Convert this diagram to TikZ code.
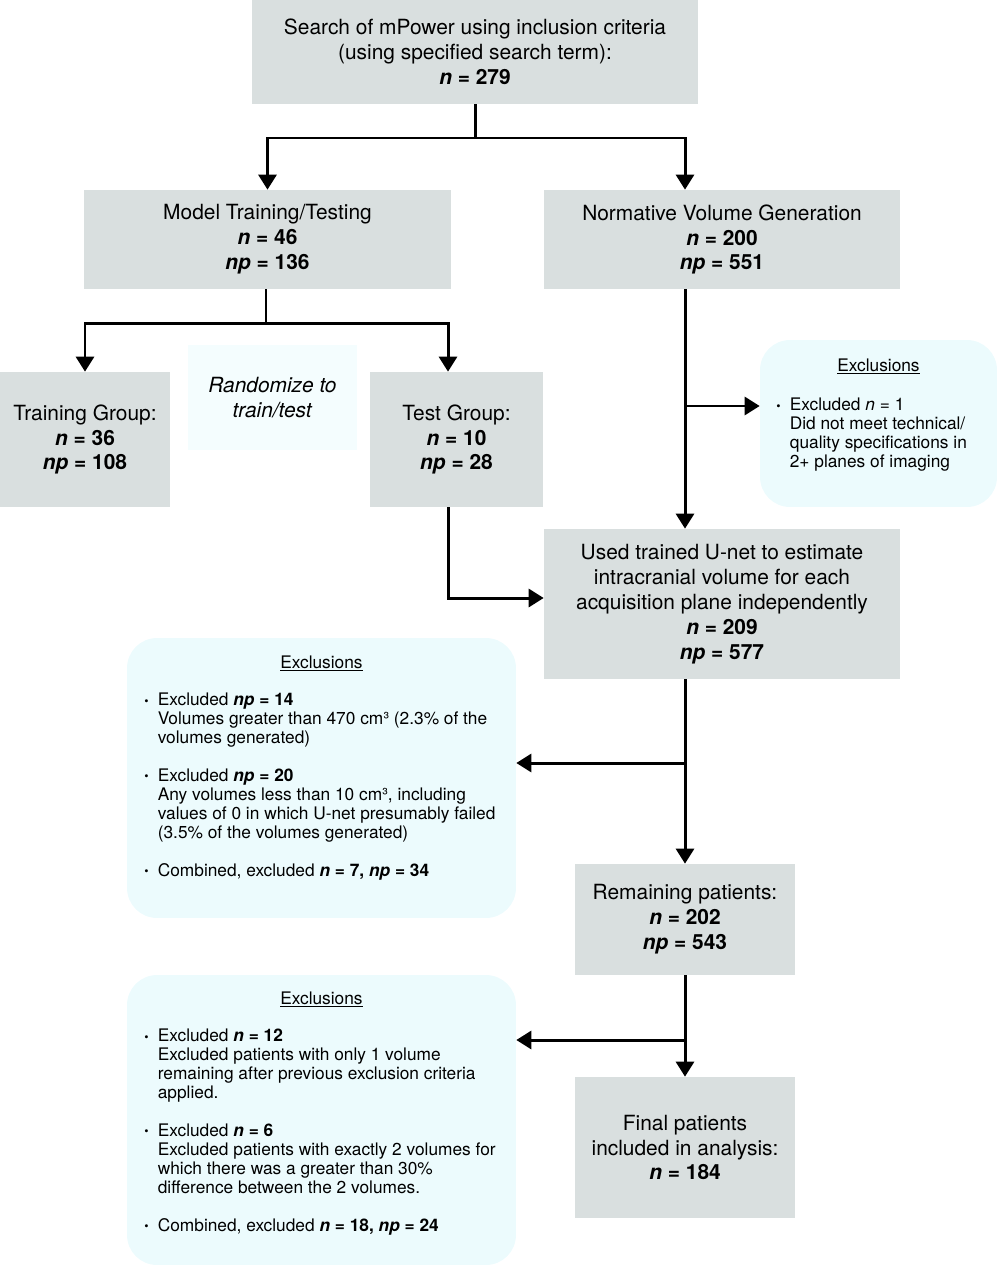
\documentclass[tikz,border=0pt]{standalone}
\usepackage{fontspec}
\setmainfont{TeX Gyre Heros}
\usetikzlibrary{arrows.meta,positioning,calc}

\definecolor{boxgray}{HTML}{D9DFDF}
\definecolor{exclcyan}{HTML}{ECFBFD}
\definecolor{notecyan}{HTML}{F4FDFE}

\newcommand{\flowfont}{\fontsize{11.9pt}{14.2pt}\selectfont}
\newcommand{\notefont}{\fontsize{9.85pt}{10.8pt}\selectfont}
\newcommand{\nval}[1]{\textbf{\textit{n} = #1}}
\newcommand{\npval}[1]{\textbf{\textit{np} = #1}}
\newcommand{\bul}{\makebox[0.27cm][l]{\raisebox{0.1ex}{\scriptsize\textbullet}}}
\newcommand{\ind}{\hspace*{0.27cm}}

\begin{document}
\begin{tikzpicture}[
      x=0.02cm,y=-0.02cm,
      block/.style={
        rectangle,
        fill=boxgray,
        align=center,
        inner sep=0pt,
        font=\flowfont
      },
      excl/.style={
        rectangle,
        fill=exclcyan,
        rounded corners=0.6cm,
        inner sep=0pt
      },
      exclhead/.style={inner sep=0pt,font=\notefont,anchor=base},
      excltext/.style={inner sep=0pt,font=\notefont,align=left,anchor=north west},
      arrow/.style={-{Triangle[length=0.3cm,width=0.36cm]},line width=1.7pt},
      line/.style={line width=1.7pt}
    ]
    \useasboundingbox (0,0) rectangle (998,1280);

    % Search and the two arms
    \node[block,minimum width=8.92cm,minimum height=2.08cm] (search) at (475,52)
      {Search of mPower using inclusion criteria\\(using specified search term):\\\nval{279}};
    \node[block,minimum width=7.34cm,minimum height=1.98cm] (model) at (267.5,239.5)
      {Model Training/Testing\\\nval{46}\\\npval{136}};
    \node[block,minimum width=7.12cm,minimum height=1.98cm] (norm) at (722,239.5)
      {Normative Volume Generation\\\nval{200}\\\npval{551}};

    % Training / test split
    \node[block,minimum width=3.4cm,minimum height=2.7cm] (train) at (85,439.5)
      {Training Group:\\\nval{36}\\\npval{108}};
    \node[block,fill=notecyan,minimum width=3.38cm,minimum height=2.1cm] (rand) at (272.5,397.5)
      {\textit{Randomize to}\\\textit{train/test}};
    \node[block,minimum width=3.46cm,minimum height=2.7cm] (test) at (456.5,439.5)
      {Test Group:\\\nval{10}\\\npval{28}};

    % Volume estimation and remaining patients
    \node[block,minimum width=7.12cm,minimum height=3.0cm] (unet) at (722,604)
      {Used trained U-net to estimate\\intracranial volume for each\\acquisition plane independently\\\nval{209}\\\npval{577}};
    \node[block,minimum width=4.4cm,minimum height=2.22cm] (remain) at (685,919.5)
      {Remaining patients:\\\nval{202}\\\npval{543}};
    \node[block,minimum width=4.4cm,minimum height=2.82cm] (final) at (685,1147.5)
      {Final patients\\included in analysis:\\\nval{184}};

    % Exclusion boxes
    \node[excl,minimum width=4.74cm,minimum height=3.34cm] (exclone) at (878.5,423.5) {};
    \node[exclhead] (exclonehead) at (878.5,371) {\underline{Exclusions}};
    \node[excltext] (exclonetext) at (776,398)
      {\bul Excluded \textit{n} = 1\\
       \ind Did not meet technical/\\
       \ind quality specifications in\\
       \ind 2+ planes of imaging};

    \node[excl,minimum width=7.78cm,minimum height=5.6cm] (excltwo) at (321.5,778) {};
    \node[exclhead] (excltwohead) at (321.5,668) {\underline{Exclusions}};
    \node[excltext] (excltwotext) at (144,693)
      {\bul Excluded \npval{14}\\
       \ind Volumes greater than 470 cm³ (2.3\% of the\\
       \ind volumes generated)\\[10.8pt]
       \bul Excluded \npval{20}\\
       \ind Any volumes less than 10 cm³, including\\
       \ind values of 0 in which U-net presumably failed\\
       \ind (3.5\% of the volumes generated)\\[10.8pt]
       \bul Combined, excluded \textbf{\textit{n} = 7, \textit{np} = 34}};

    \node[excl,minimum width=7.78cm,minimum height=5.8cm] (exclthree) at (321.5,1120) {};
    \node[exclhead] (exclthreehead) at (321.5,1004) {\underline{Exclusions}};
    \node[excltext] (exclthreetext) at (144,1029)
      {\bul Excluded \nval{12}\\
       \ind Excluded patients with only 1 volume\\
       \ind remaining after previous exclusion criteria\\
       \ind applied.\\[10.8pt]
       \bul Excluded \nval{6}\\
       \ind Excluded patients with exactly 2 volumes for\\
       \ind which there was a greater than 30\%\\
       \ind difference between the 2 volumes.\\[10.8pt]
       \bul Combined, excluded \textbf{\textit{n} = 18, \textit{np} = 24}};

    % Connectors
    \coordinate (spine) at (685,0);
    \coordinate (split1) at (475,138);
    \draw[line] (search.south) -- (split1);
    \draw[arrow] (split1) -| (model.north);
    \draw[arrow] (split1) -| (norm.north -| spine);

    \coordinate (split2) at ($(model.south)+(-1.5,34)$);
    \draw[line] (model.south -| split2) -- (split2);
    \draw[arrow] (split2) -| (train.north);
    \draw[arrow] (split2) -| ([xshift=-0.17cm]test.north);
    \draw[arrow] ([xshift=-0.17cm]test.south) |- ([yshift=0.12cm]unet.west);

    \draw[arrow] (norm.south -| spine) -- (unet.north -| spine);
    \coordinate (branch1) at (685,406);
    \draw[arrow] (branch1) -- (branch1 -| exclone.west);

    \draw[arrow] (unet.south -| spine) -- (remain.north);
    \coordinate (branch2) at (685,763);
    \draw[arrow] (branch2) -- (branch2 -| excltwo.east);

    \draw[arrow] (remain.south) -- (final.north);
    \coordinate (branch3) at (685,1040);
    \draw[arrow] (branch3) -- (branch3 -| exclthree.east);
  \end{tikzpicture}
\end{document}
